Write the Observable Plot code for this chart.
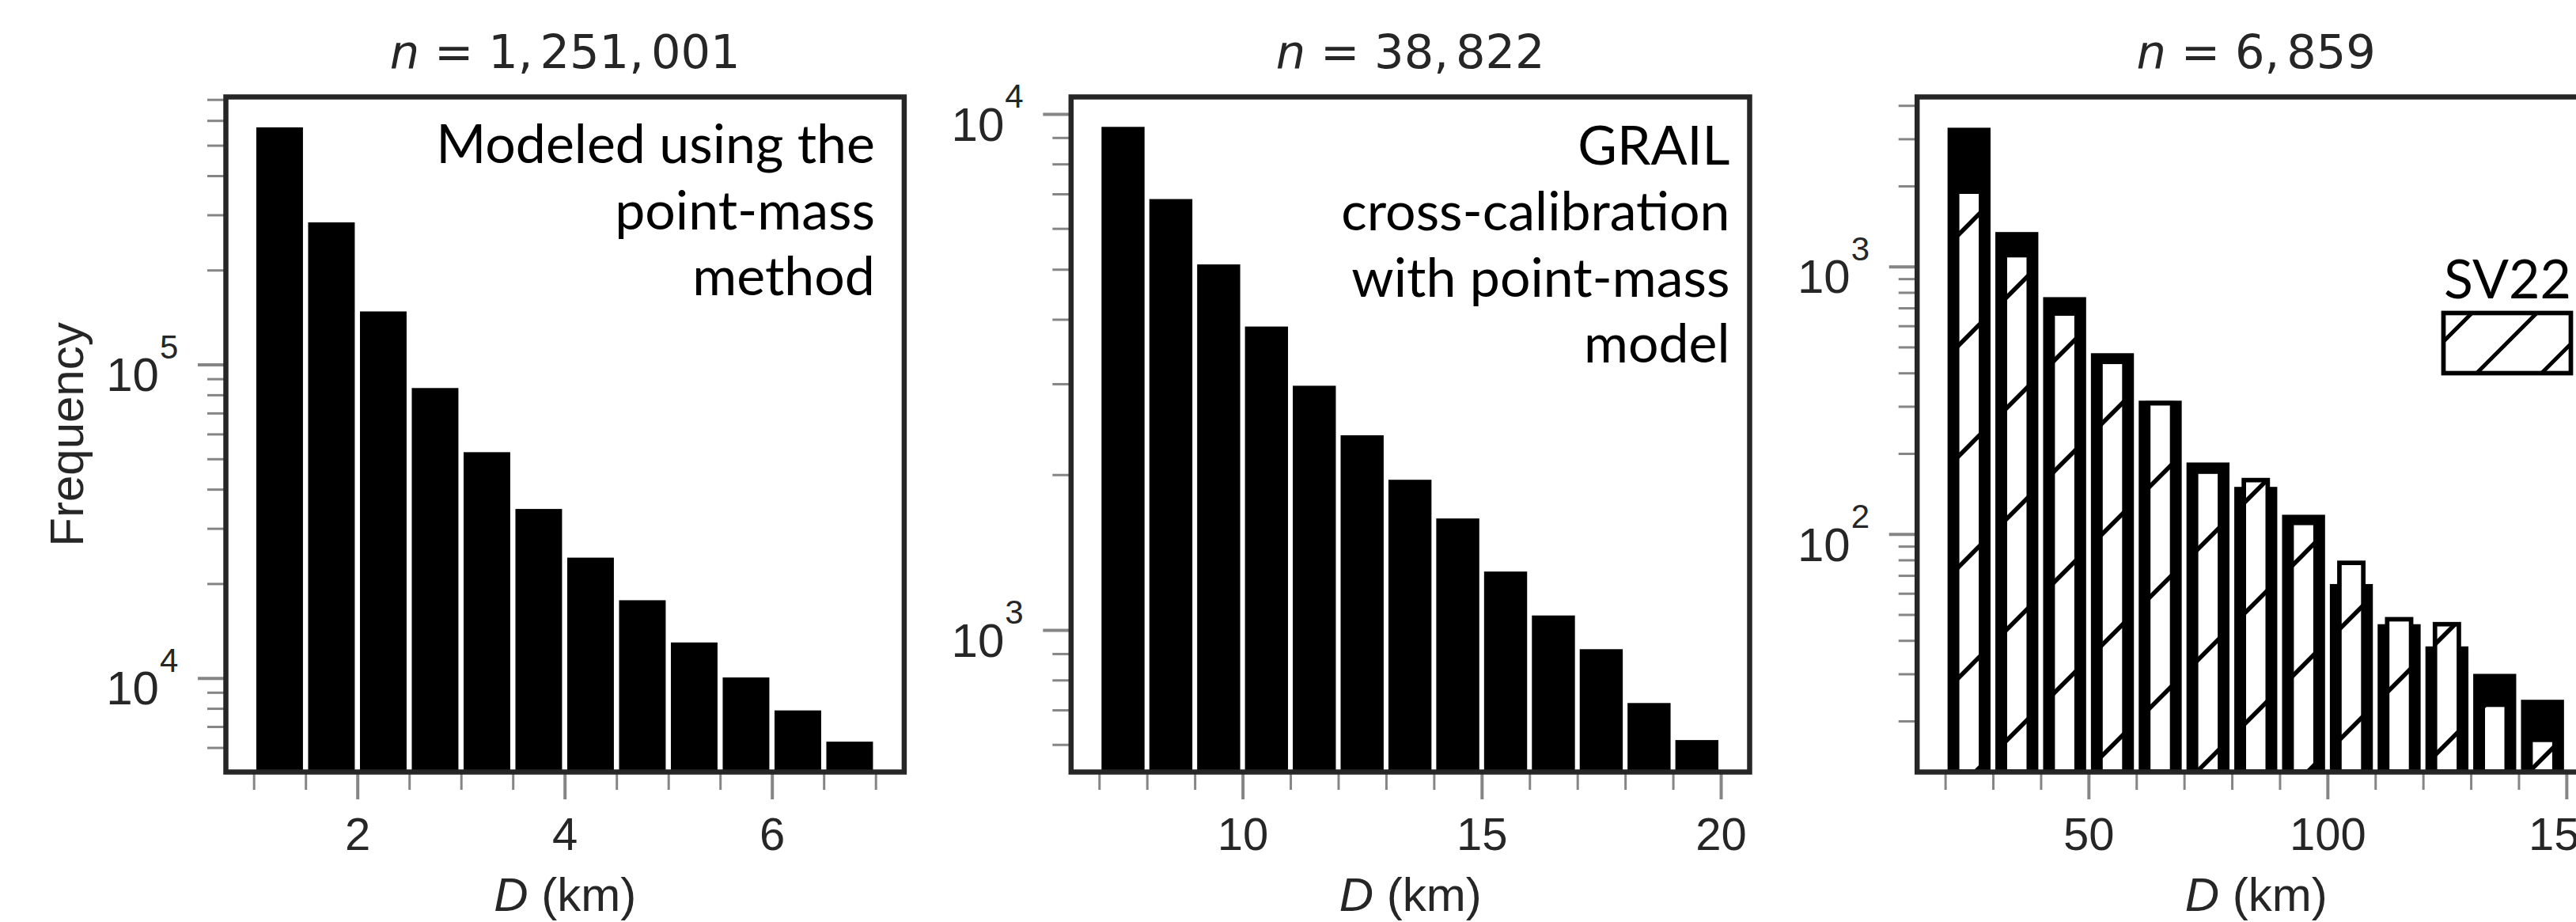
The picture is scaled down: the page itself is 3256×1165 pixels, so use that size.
<!DOCTYPE html>
<html><head><meta charset="utf-8">
<script src="https://cdn.jsdelivr.net/npm/d3@7"></script>
<script src="https://cdn.jsdelivr.net/npm/@observablehq/plot@0.6"></script>
<style>
html,body{margin:0;padding:0;background:#fff;overflow:hidden;}
#fig{position:relative;width:3256px;height:1165px;overflow:hidden;background:#fff;}
#fig svg{position:absolute;top:0;}
</style></head><body><div id="fig"></div>
<script>
const ns = "http://www.w3.org/2000/svg";

// ---- data ----
const binsA = [1.0, 1.5, 2.0, 2.5, 3.0, 3.5, 4.0, 4.5, 5.0, 5.5, 6.0, 6.5];
const countsA = [570400, 283900, 147600, 84100, 52500, 34600, 24200, 17700, 12980, 10040, 7880, 6265];
const binsB = [7, 8, 9, 10, 11, 12, 13, 14, 15, 16, 17, 18, 19];
const countsB = [9440, 6840, 5110, 3873, 2974, 2384, 1955, 1645, 1298, 1067, 918, 722, 612];
const binsC = [20, 30, 40, 50, 60, 70, 80, 90, 100, 110, 120, 130, 140];
const countsC = [3301, 1345, 768, 474, 315, 185, 150, 118, 65, 46, 38, 30, 24];
const countsSV22 = [1904, 1102, 667, 440, 308, 171, 159, 110, 78, 48, 46, 23, 17];
const binWidths = [0.5, 1, 10];
const totals = ["1,251,001", "38,822", "6,859"];
const notes = ["Modeled using the\npoint-mass\nmethod", "GRAIL\ncross-calibration\nwith point-mass\nmodel", null];
const legendLabel = "SV22";
const xTicksMajor = [[2, 4, 6], [10, 15, 20], [50, 100, 150]];
const xTicksMinor = [[1, 1.5, 2.5, 3, 3.5, 4.5, 5, 5.5, 6.5, 7], [7, 8, 9, 11, 12, 13, 14, 16, 17, 18, 19], [20, 30, 40, 60, 70, 80, 90, 110, 120, 130, 140]];
const yTicksMajor = [[1e4, 1e5], [1e3, 1e4], [1e2, 1e3]];
const xLabel = "D (km)";
const yLabel = "Frequency";

// ---- layout ----
const layout = [
  {left: 0, width: 1180, ml: 285, mr: 37.6, xDomain: [0.7275, 7.2725], yDomain: [5027, 715200], noteDx: -37, noteDy: 24.7},
  {left: 1180, width: 1060, ml: 173.3, mr: 29, xDomain: [6.405, 20.595], yDomain: [531.6, 10807], noteDx: -25, noteDy: 26.2},
  {left: 2240, width: 1060, ml: 182.7, mr: 20.2, xDomain: [14.05, 155.95], yDomain: [12.93, 4317]}
];
const H = 1165, MT = 122, MB = 190;
const TICK = "#858585", INK = "#262626";

function minorLog([lo, hi]) {
  const out = [];
  for (let e = Math.floor(Math.log10(lo)); e <= Math.ceil(Math.log10(hi)); e++)
    for (let k = 2; k <= 9; k++) { const v = k * 10 ** e; if (v >= lo && v <= hi) out.push(v); }
  return out;
}

function hatchDefs() {
  const defs = document.createElementNS(ns, "defs");
  defs.innerHTML =
    `<pattern id="hatchBar" patternUnits="userSpaceOnUse" x="112" y="0" width="140" height="140">` +
    `<rect width="140" height="140" fill="#fff"/>` +
    `<path d="M-35,35L35,-35M0,140L140,0M105,175L175,105" stroke="#000" stroke-width="5.5"/></pattern>` +
    `<pattern id="hatchLeg" patternUnits="userSpaceOnUse" x="50" y="0" width="82" height="82">` +
    `<rect width="82" height="82" fill="#fff"/>` +
    `<path d="M-20,20L20,-20M0,82L82,0M62,102L102,62" stroke="#000" stroke-width="5"/></pattern>`;
  return defs;
}

function legendBox(index, scales, values, dims) {
  const right = dims.width - dims.marginRight;
  const r = document.createElementNS(ns, "rect");
  r.setAttribute("x", right - 191.3);
  r.setAttribute("y", dims.marginTop + 273.5);
  r.setAttribute("width", 161);
  r.setAttribute("height", 76);
  r.setAttribute("fill", "url(#hatchLeg)");
  r.setAttribute("stroke", "#000");
  r.setAttribute("stroke-width", 5.7);
  return r;
}

function tspan(txt, attrs = {}) {
  const t = document.createElementNS(ns, "tspan");
  t.textContent = txt;
  for (const k in attrs) t.setAttribute(k, attrs[k]);
  return t;
}

function enrich(svg) {
  for (const t of svg.querySelectorAll("text")) {
    const s = t.textContent;
    if (s === xLabel) {
      t.textContent = "";
      t.append(tspan("D", {"font-style": "italic"}), tspan(" (km)"));
    } else if (s.startsWith("n = ")) {
      const num = s.slice(4);
      t.textContent = "";
      t.setAttribute("font-family", "DejaVu Sans");
      t.setAttribute("font-size", 59);
      t.append(tspan("n", {"font-style": "italic"}), tspan(" = "));
      num.split(",").forEach((part, k) => {
        t.append(tspan((k ? "" : "") + part, k ? {dx: 9} : {}));
        if (k < num.split(",").length - 1) t.append(tspan(","));
      });
    }
  }
}

const panels = [
  {bins: binsA, counts: countsA},
  {bins: binsB, counts: countsB},
  {bins: binsC, counts: countsC, hatched: countsSV22}
];

const fig = document.getElementById("fig");
panels.forEach((p, i) => {
  const L = layout[i];
  const w = binWidths[i];
  const rows = p.bins.map((lo, j) => ({lo, v: p.counts[j], h: p.hatched ? p.hatched[j] : null}));
  const y0 = L.yDomain[0];
  const marks = [];
  if (p.hatched) marks.push(hatchDefs);
  marks.push(Plot.rect(rows, {x1: d => d.lo + 0.05 * w, x2: d => d.lo + 0.95 * w, y1: y0, y2: "v", fill: "#000"}));
  if (p.hatched) marks.push(Plot.rect(rows, {x1: d => d.lo + 0.25 * w, x2: d => d.lo + 0.75 * w, y1: y0, y2: "h", fill: "url(#hatchBar)", stroke: "#000", strokeWidth: 5.7}));
  marks.push(
    Plot.axisY(minorLog(L.yDomain), {anchor: "left", tickSize: 23, stroke: TICK, strokeWidth: 3, tickFormat: () => "", label: null}),
    Plot.axisY(yTicksMajor[i], {anchor: "left", tickSize: 35, stroke: TICK, strokeWidth: 4, tickFormat: () => "", label: null}),
    Plot.axisX(xTicksMinor[i], {anchor: "bottom", tickSize: 23, stroke: TICK, strokeWidth: 3, tickFormat: () => "", label: null}),
    Plot.axisX(xTicksMajor[i], {anchor: "bottom", tickSize: 35, stroke: TICK, strokeWidth: 4, tickFormat: () => "", label: null}),
    Plot.frame({stroke: INK, strokeWidth: 6.5}),
    Plot.text(yTicksMajor[i], {y: d => d, frameAnchor: "left", text: () => "10", textAnchor: "end", lineAnchor: "bottom", dx: -84.5, dy: 33.3, fontSize: 60, fill: INK}),
    Plot.text(yTicksMajor[i], {y: d => d, frameAnchor: "left", text: d => String(Math.round(Math.log10(d))), textAnchor: "start", lineAnchor: "bottom", dx: -83.5, dy: -8.4, fontSize: 42, fill: INK}),
    Plot.text(xTicksMajor[i], {x: d => d, frameAnchor: "bottom", text: d => String(d), textAnchor: "middle", lineAnchor: "bottom", dy: 98.3, fontSize: 58, fill: INK}),
    Plot.text([xLabel], {frameAnchor: "bottom", textAnchor: "middle", lineAnchor: "bottom", dy: 175, fontSize: 60, fill: INK}),
    Plot.text(["n = " + totals[i]], {frameAnchor: "top", textAnchor: "middle", lineAnchor: "bottom", dy: -37, fontSize: 59, fill: INK})
  );
  if (notes[i]) marks.push(Plot.text([notes[i]], {frameAnchor: "top-right", textAnchor: "end", lineAnchor: "top", lineHeight: 83.5 / 68, dx: L.noteDx, dy: L.noteDy, fontSize: 68, fontFamily: "Lato", fill: "#000"}));
  if (i === 0) marks.push(Plot.text([yLabel], {frameAnchor: "left", rotate: -90, textAnchor: "middle", lineAnchor: "bottom", dx: -181, fontSize: 60, fill: INK}));
  if (p.hatched) {
    marks.push(legendBox);
    marks.push(Plot.text([legendLabel], {frameAnchor: "top-right", textAnchor: "middle", lineAnchor: "bottom", dx: -110.8, dy: 254, fontSize: 68, fontFamily: "Lato", fill: "#000"}));
  }
  const svg = Plot.plot({
    width: L.width, height: H,
    marginLeft: L.ml, marginRight: L.mr, marginTop: MT, marginBottom: MB,
    x: {domain: L.xDomain},
    y: {type: "log", domain: L.yDomain},
    style: {fontFamily: "'Liberation Sans', Arial, sans-serif", background: "transparent", overflow: "visible"},
    marks
  });
  enrich(svg);
  svg.style.left = L.left + "px";
  fig.appendChild(svg);
});
</script></body></html>
